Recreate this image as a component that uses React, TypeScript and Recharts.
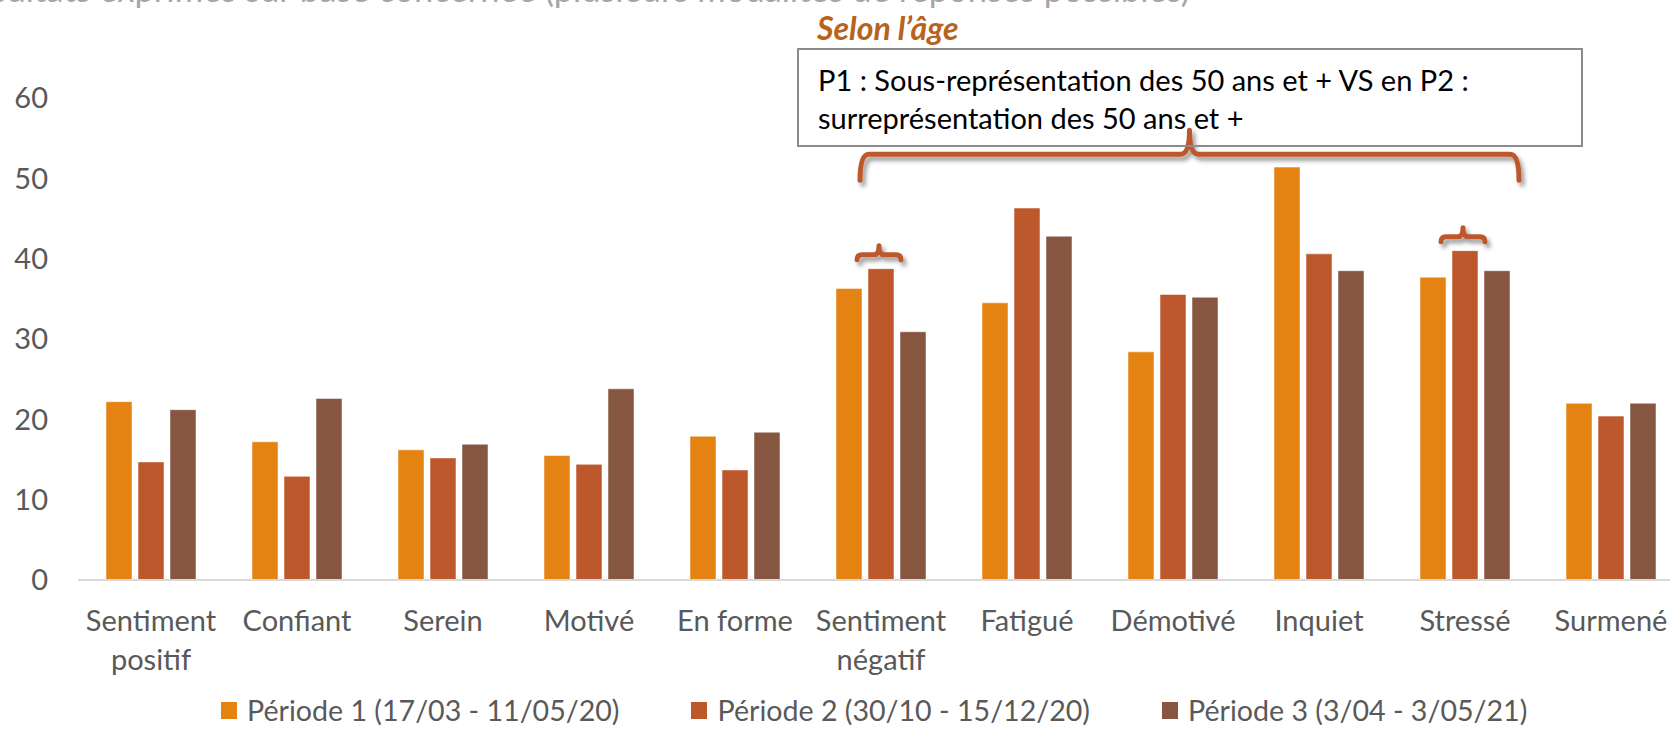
import React from "react";
import { BarChart, Bar, XAxis, YAxis, ReferenceArea } from "recharts";

const categories = [
  "Sentiment positif",
  "Confiant",
  "Serein",
  "Motivé",
  "En forme",
  "Sentiment négatif",
  "Fatigué",
  "Démotivé",
  "Inquiet",
  "Stressé",
  "Surmené",
];
const periode1 = [22.2, 17.2, 16.2, 15.5, 17.9, 36.3, 34.5, 28.4, 51.4, 37.7, 22.0];
const periode2 = [14.7, 12.9, 15.2, 14.4, 13.7, 38.75, 46.3, 35.55, 40.6, 41.0, 20.4];
const periode3 = [21.2, 22.6, 16.9, 23.8, 18.4, 30.9, 42.8, 35.2, 38.5, 38.5, 22.0];

const seriesNames = [
  "Période 1 (17/03 - 11/05/20)",
  "Période 2 (30/10 - 15/12/20)",
  "Période 3 (3/04 - 3/05/21)",
];
const seriesColors = ["#E48312", "#BD582C", "#865640"];
const yTicks = [0, 10, 20, 30, 40, 50, 60];

const subtitle = "Résultats exprimés sur base concernée (plusieurs modalités de réponses possibles)";
const ageTitle = "Selon l’âge";
const noteLines = [
  "P1 : Sous-représentation des 50 ans et + VS en P2 :",
  "surreprésentation des 50 ans et +",
];
// small braces over the P2 bar of these categories, big brace spanning from/to
const bracedCategories = ["Sentiment négatif", "Stressé"];
const groupBraceFrom = "Sentiment négatif";
const groupBraceTo = "Stressé";

const data = categories.map((name, i) => ({
  name,
  p1: periode1[i],
  p2: periode2[i],
  p3: periode3[i],
}));

const FONT = "Lato, Calibri, sans-serif";
const BRACE = "#BD582C";

// curly brace with the tip pointing up
const bracePath = (x1: number, x2: number, y0: number, hEnd: number, hTip: number, r: number) => {
  const cx = (x1 + x2) / 2;
  return `M ${x1} ${y0 + hEnd} Q ${x1} ${y0} ${x1 + r} ${y0} L ${cx - r} ${y0} Q ${cx} ${y0} ${cx} ${y0 - hTip} Q ${cx} ${y0} ${cx + r} ${y0} L ${x2 - r} ${y0} Q ${x2} ${y0} ${x2} ${y0 + hEnd}`;
};

// greedy word wrap, Excel wraps labels wider than the category band
const wrapLabel = (label: string, maxChars = 10) => {
  const lines: string[] = [];
  let cur = "";
  label.split(" ").forEach((w) => {
    if (cur && (cur + " " + w).length > maxChars) {
      lines.push(cur);
      cur = w;
    } else {
      cur = cur ? cur + " " + w : w;
    }
  });
  if (cur) lines.push(cur);
  return lines;
};

const CategoryTick = (props: any) => {
  const { x, y, payload } = props;
  const lines = wrapLabel(String(payload.value));
  return (
    <text x={x} y={y + 51} textAnchor="middle" fill="#595959" fontSize={29} fontFamily={FONT}>
      {lines.map((l, i) => (
        <tspan key={i} x={x} dy={i === 0 ? 0 : 39}>
          {l}
        </tspan>
      ))}
    </text>
  );
};

const SmallBrace = (props: any) => {
  const vb = props.viewBox || props;
  const idx = props.index;
  if (idx == null || !bracedCategories.includes(categories[idx])) return null;
  const cx = vb.x + vb.width / 2 - 2;
  const y0 = vb.y - 14;
  return (
    <path
      d={bracePath(cx - 22, cx + 22, y0, 5, 9, 5)}
      fill="none"
      stroke={BRACE}
      strokeWidth={5}
      strokeLinecap="round"
      strokeLinejoin="round"
      filter="url(#braceShadow)"
    />
  );
};

// the reference area spans from the start of the first band to the end of the last one
const BigBrace = (props: any) => {
  const { x, y, width, height } = props;
  return (
    <path
      d={bracePath(x + 52, x + width - 19, y, height + 2, 24, 9)}
      fill="none"
      stroke={BRACE}
      strokeWidth={5}
      strokeLinecap="round"
      strokeLinejoin="round"
      filter="url(#braceShadow)"
    />
  );
};

const ChartLegend = () => (
  <div
    style={{
      position: "absolute",
      left: 0,
      top: 692,
      height: 36,
      lineHeight: "36px",
      display: "flex",
      alignItems: "center",
      paddingLeft: 221,
      fontFamily: FONT,
      fontSize: 28.6,
      color: "#595959",
      whiteSpace: "nowrap",
    }}
  >
    {seriesNames.map((n, i) => (
      <div key={n} style={{ display: "flex", alignItems: "center", marginRight: 72 }}>
        <span style={{ width: 16, height: 17, background: seriesColors[i], marginRight: 10 }} />
        <span>{n}</span>
      </div>
    ))}
  </div>
);

export default function App() {
  return (
    <div
      style={{
        position: "fixed",
        left: 0,
        top: 0,
        width: 1670,
        height: 731,
        overflow: "hidden",
        background: "#fff",
      }}
    >
      <BarChart
        width={1700}
        height={731}
        data={data}
        margin={{ top: 98, right: 16, bottom: 0, left: 0 }}
        barSize={26}
        barGap={6}
      >
        <defs>
          <filter id="braceShadow" x="-20%" y="-60%" width="140%" height="260%">
            <feDropShadow dx="3" dy="4" stdDeviation="2" floodColor="#000" floodOpacity="0.4" />
          </filter>
        </defs>
        <XAxis
          dataKey="name"
          interval={0}
          height={151}
          tickLine={false}
          tickSize={0}
          tickMargin={0}
          axisLine={{ stroke: "#D9D9D9", strokeWidth: 2 }}
          tick={CategoryTick}
        />
        <YAxis
          domain={[0, 60]}
          ticks={yTicks}
          width={78}
          axisLine={false}
          tickLine={false}
          tickSize={0}
          tickMargin={30}
          tick={{ fill: "#595959", fontSize: 29, fontFamily: FONT }}
        />
        <Bar dataKey="p1" name={seriesNames[0]} fill={seriesColors[0]} stroke="#fff" strokeOpacity={0.5} isAnimationActive={false} />
        <Bar
          dataKey="p2"
          name={seriesNames[1]}
          fill={seriesColors[1]}
          stroke="#fff"
          strokeOpacity={0.5}
          isAnimationActive={false}
          label={SmallBrace}
        />
        <Bar dataKey="p3" name={seriesNames[2]} fill={seriesColors[2]} stroke="#fff" strokeOpacity={0.5} isAnimationActive={false} />
        <ReferenceArea
          x1={groupBraceFrom}
          x2={groupBraceTo}
          y1={50}
          y2={53}
          ifOverflow="visible"
          shape={BigBrace}
        />
      </BarChart>

      <ChartLegend />
      <div
        style={{
          position: "absolute",
          right: 1670 - 1190,
          top: -28,
          fontFamily: FONT,
          fontSize: 34.5,
          lineHeight: "34.5px",
          color: "#A6A6A6",
          whiteSpace: "nowrap",
        }}
      >
        {subtitle}
      </div>
      <div
        style={{
          position: "absolute",
          left: 817,
          top: 9,
          fontFamily: FONT,
          fontSize: 32,
          lineHeight: "38px",
          fontWeight: 700,
          fontStyle: "italic",
          color: "#B8631C",
        }}
      >
        {ageTitle}
      </div>
      <div
        style={{
          position: "absolute",
          left: 797,
          top: 48,
          width: 786,
          height: 99,
          boxSizing: "border-box",
          border: "2px solid #8C8C8C",
          padding: "11px 0 0 19px",
          fontFamily: FONT,
          fontSize: 29,
          lineHeight: "38px",
          color: "#000",
          whiteSpace: "nowrap",
        }}
      >
        {noteLines.map((l) => (
          <div key={l}>{l}</div>
        ))}
      </div>
    </div>
  );
}
